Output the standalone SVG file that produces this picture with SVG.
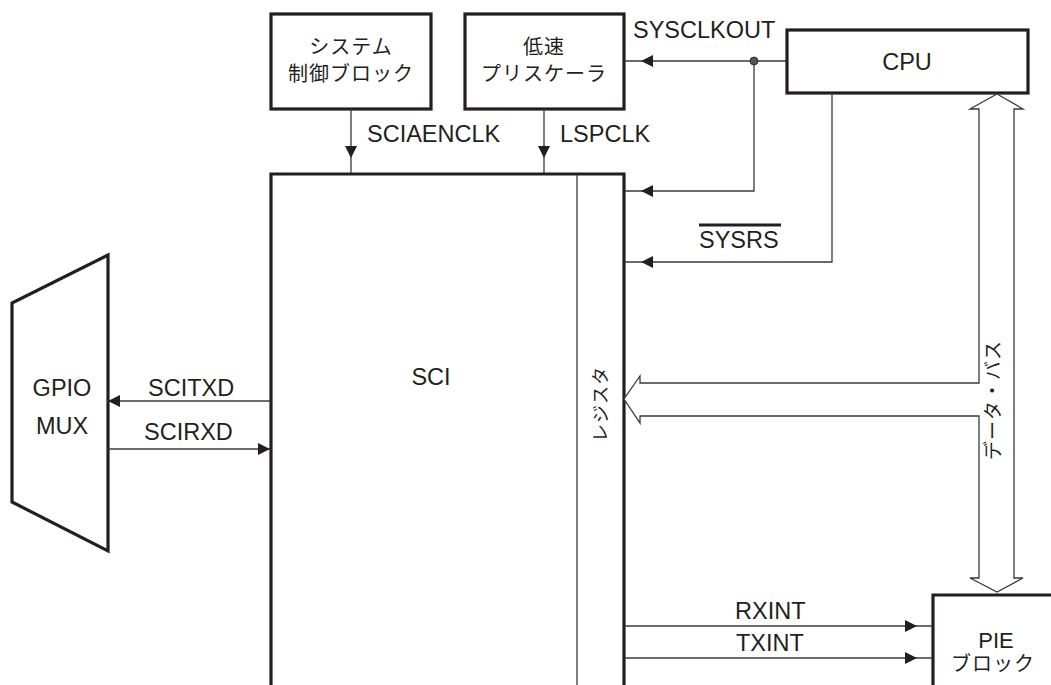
<svg xmlns="http://www.w3.org/2000/svg" width="1051" height="685" viewBox="0 0 1051 685">
<style>
.box{fill:#fff;stroke:#231f20;stroke-width:3.2}
.ln{fill:none;stroke:#3a3a3a;stroke-width:1.3}
.bus{fill:#fff;stroke:#3a3a3a;stroke-width:1.3}
.t{font-family:"Liberation Sans",Arial,sans-serif;font-size:23.5px;fill:#231f20}
.j{font-family:"Liberation Sans","Noto Sans CJK JP",sans-serif;font-size:20px;fill:#231f20;letter-spacing:1px}
.m{text-anchor:middle}
</style>
<defs>
<path id="ah" d="M0,0 L-12,-6 L-12,6 Z" fill="#231f20"/>
</defs>
<rect width="1051" height="685" fill="#fff"/>
<g id="sysctl">
<rect class="box" x="271" y="14" width="160" height="95"/>
<text class="j m" x="351" y="54">システム</text>
<text class="j m" x="351" y="81">制御ブロック</text>
</g>
<g id="prescaler">
<rect class="box" x="465" y="14" width="159" height="95"/>
<text class="j m" x="544" y="54">低速</text>
<text class="j m" x="544" y="81">プリスケーラ</text>
</g>
<g id="cpu">
<rect class="box" x="787" y="30" width="241" height="63"/>
<text class="t m" x="907" y="70">CPU</text>
</g>
<g id="sci">
<path class="box" d="M271,690 V174 H624 V690"/>
<line class="ln" x1="577" y1="175" x2="577" y2="690"/>
<text class="t m" x="431" y="385">SCI</text>
<text class="j m" transform="translate(607,404) rotate(-90)" style="font-size:18px">レジスタ</text>
</g>
<g id="gpiomux">
<polygon class="box" points="108,255 12,303 12,502 108,551"/>
<text class="t m" x="62" y="396">GPIO</text>
<text class="t m" x="62" y="434">MUX</text>
</g>
<g id="pie">
<path class="box" d="M933,690 V595 H1060"/>
<text class="t m" x="996" y="648" style="font-size:22px">PIE</text>
<text class="j m" x="993" y="671">ブロック</text>
</g>
<g id="connectors">
<line class="ln" x1="351" y1="109" x2="351" y2="173"/>
<use href="#ah" transform="translate(351,158) rotate(90)"/>
<text class="t" x="367" y="142">SCIAENCLK</text>
<line class="ln" x1="544" y1="109" x2="544" y2="173"/>
<use href="#ah" transform="translate(544,158) rotate(90)"/>
<text class="t" x="560" y="142">LSPCLK</text>
<line class="ln" x1="625" y1="61" x2="786" y2="61"/>
<use href="#ah" transform="translate(641,61) rotate(180)"/>
<text class="t" x="633" y="38">SYSCLKOUT</text>
<polyline class="ln" points="754,61 754,191 625,191"/>
<use href="#ah" transform="translate(641,191) rotate(180)"/>
<circle cx="754" cy="61" r="4" fill="#555" stroke="#231f20" stroke-width="0.8"/>
<polyline class="ln" points="832,93 832,262 625,262"/>
<use href="#ah" transform="translate(641,262) rotate(180)"/>
<text class="t" x="699" y="248">SYSRS</text>
<line x1="699" y1="225" x2="781" y2="225" stroke="#231f20" stroke-width="3"/>
<polygon class="bus" points="997,94 1023,109 1014,109 1014,578 1023,578 997,592 970,578 979,578 979,416 640,416 640,423 624,399 640,376 640,383 979,383 979,109 970,109"/>
<text class="j m" transform="translate(1000,400) rotate(-90)" style="font-size:19px">データ・バス</text>
<line class="ln" x1="108" y1="401" x2="270" y2="401"/>
<use href="#ah" transform="translate(108,401) rotate(180)"/>
<text class="t" x="148" y="396">SCITXD</text>
<line class="ln" x1="108" y1="449" x2="270" y2="449"/>
<use href="#ah" transform="translate(270,449)"/>
<text class="t" x="144" y="440">SCIRXD</text>
<line class="ln" x1="625" y1="626" x2="932" y2="626"/>
<use href="#ah" transform="translate(917,626)"/>
<text class="t" x="735" y="619">RXINT</text>
<line class="ln" x1="625" y1="658" x2="932" y2="658"/>
<use href="#ah" transform="translate(917,658)"/>
<text class="t" x="736" y="651">TXINT</text>
</g>
</svg>
